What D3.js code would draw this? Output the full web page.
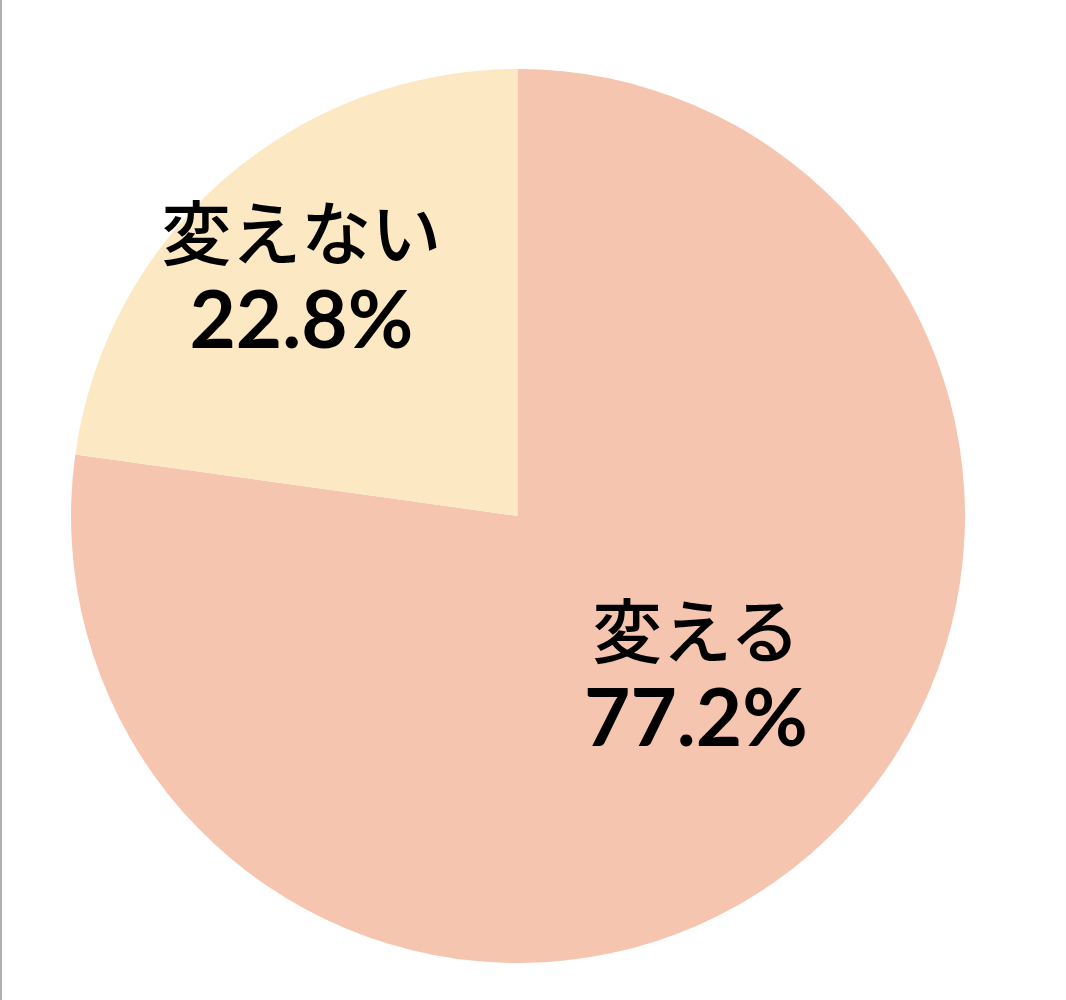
<!DOCTYPE html>
<html><head><meta charset="utf-8">
<script src="https://cdn.jsdelivr.net/npm/d3@7"></script>
<style>
html,body{margin:0;padding:0;background:#fff;}
svg{display:block;}
</style></head>
<body>
<svg id="chart" width="1066" height="1000"></svg>
<script>
const categories = ["変える", "変えない"];
const values = [77.2, 22.8];
const valueLabels = ["77.2%", "22.8%"];
const colors = ["#F6C5AF", "#FDE8C4"];

const W = 1066, H = 1000;
const cx = 518, cy = 516, R = 447;
const svg = d3.select("#chart");

// left border line
svg.append("rect").attr("x", 0).attr("y", 0).attr("width", 2).attr("height", H).attr("fill", "#b0b0b0");

const pie = d3.pie().sort(null).value(d => d)(values);
const arc = d3.arc().innerRadius(0).outerRadius(R);
const g = svg.append("g").attr("transform", `translate(${cx},${cy})`);
g.selectAll("path").data(pie).join("path")
  .attr("d", arc)
  .attr("fill", (d, i) => colors[i]);

// label anchors: centroid at a given radius, plus vertical shift
const labelRadius = [271, 330];
const labelShift = [-45, 10];
pie.forEach((d, i) => {
  const a = (d.startAngle + d.endAngle) / 2;
  const x = Math.sin(a) * labelRadius[i];
  const y = -Math.cos(a) * labelRadius[i] + labelShift[i];
  const t = g.append("g").attr("transform", `translate(${x},${y})`);
  t.append("text").attr("text-anchor", "middle").attr("y", -17)
    .attr("font-family", "'Noto Sans CJK JP', sans-serif").attr("font-weight", 500).attr("font-size", 70)
    .attr("fill", "#000").text(categories[i]);
  t.append("text").attr("text-anchor", "middle").attr("y", 71)
    .attr("font-family", "Lato, 'Noto Sans', sans-serif").attr("font-weight", "bold").attr("font-size", 80)
    .attr("fill", "#000").text(valueLabels[i]);
});
</script>
</body></html>
